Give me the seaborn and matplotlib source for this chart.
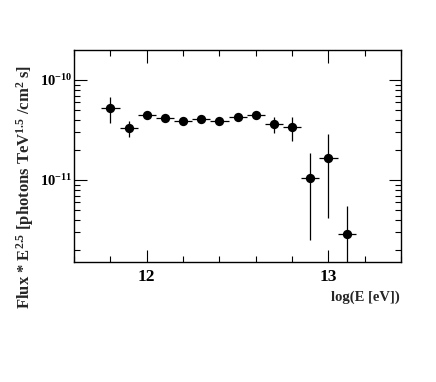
import numpy as np
import pandas as pd
import seaborn as sns
import matplotlib
matplotlib.use("Agg")
import matplotlib.pyplot as plt
from matplotlib.ticker import MultipleLocator, LogLocator, FixedLocator, NullFormatter

log_e = [11.8, 11.9, 12.0, 12.1, 12.2, 12.3, 12.4, 12.5, 12.6, 12.7, 12.8, 12.9, 13.0, 13.1]
flux = [5.28e-11, 3.33e-11, 4.50e-11, 4.17e-11, 3.92e-11, 4.05e-11, 3.86e-11,
        4.30e-11, 4.50e-11, 3.61e-11, 3.37e-11, 1.05e-11, 1.66e-11, 2.88e-12]
flux_hi = [6.81e-11, 3.92e-11, 4.85e-11, 4.48e-11, 4.22e-11, 4.36e-11, 4.15e-11,
           4.63e-11, 4.87e-11, 4.24e-11, 4.24e-11, 1.87e-11, 2.88e-11, 5.50e-12]
flux_lo = [3.69e-11, 2.67e-11, 4.17e-11, 3.88e-11, 3.65e-11, 3.77e-11, 3.59e-11,
           4.00e-11, 4.17e-11, 2.93e-11, 2.47e-11, 2.51e-12, 4.14e-12, 1.0e-12]
bin_half = 0.05

df = pd.DataFrame({"logE": log_e, "flux": flux, "hi": flux_hi, "lo": flux_lo})

sns.set_theme(style="ticks")
plt.rcParams["font.family"] = ["Liberation Serif", "DejaVu Serif"]
plt.rcParams["font.weight"] = "bold"
plt.rcParams["mathtext.fontset"] = "custom"
plt.rcParams["mathtext.rm"] = "Liberation Serif:bold"
plt.rcParams["mathtext.bf"] = "Liberation Serif:bold"
plt.rcParams["mathtext.it"] = "Liberation Serif:bold"

fig = plt.figure(figsize=(4.36, 3.82), dpi=100)
ax = fig.add_axes([0.170, 0.314, 0.750, 0.555])

ax.errorbar(df["logE"], df["flux"],
            xerr=bin_half,
            yerr=[df["flux"] - df["lo"], df["hi"] - df["flux"]],
            fmt="none", ecolor="black", elinewidth=0.9, capsize=0)
sns.scatterplot(data=df, x="logE", y="flux", ax=ax, color="black",
                s=45, edgecolor="black", linewidth=0, zorder=3)

ax.set_yscale("log")
ax.set_xlim(11.6, 13.4)
ax.set_ylim(10 ** -11.82, 10 ** -9.7)

ax.xaxis.set_major_locator(FixedLocator([12, 13]))
ax.xaxis.set_minor_locator(MultipleLocator(0.2))
ax.set_xticklabels(["12", "13"])
ax.yaxis.set_major_locator(FixedLocator([1e-11, 1e-10]))
ax.set_yticklabels([r"$10^{-11}$", r"$10^{-10}$"])
ax.yaxis.set_minor_locator(LogLocator(base=10, subs=np.arange(2, 10)))
ax.yaxis.set_minor_formatter(NullFormatter())

ax.tick_params(which="both", direction="in", top=True, right=True,
               width=0.8, colors="black")
ax.tick_params(which="major", length=9)
ax.tick_params(which="minor", length=4.5)
ax.tick_params(axis="x", labelsize=12.5, pad=5)
ax.tick_params(axis="y", labelsize=10.5, pad=1.5)
for s in ax.spines.values():
    s.set_linewidth(1.0)
    s.set_color("black")

ax.set_xlabel("")
ax.set_ylabel("")
fig.text(0.918, 0.222, "log(E [eV])", ha="right", va="center",
         fontsize=10.5, fontweight="bold")
fig.text(0.058, 0.51,
         r"Flux * E$^{2.5}$ [photons TeV$^{1.5}$ /cm$^{2}$ s]",
         rotation=90, ha="center", va="center", fontsize=12, fontweight="bold")

fig.savefig("out.png", dpi=100)
